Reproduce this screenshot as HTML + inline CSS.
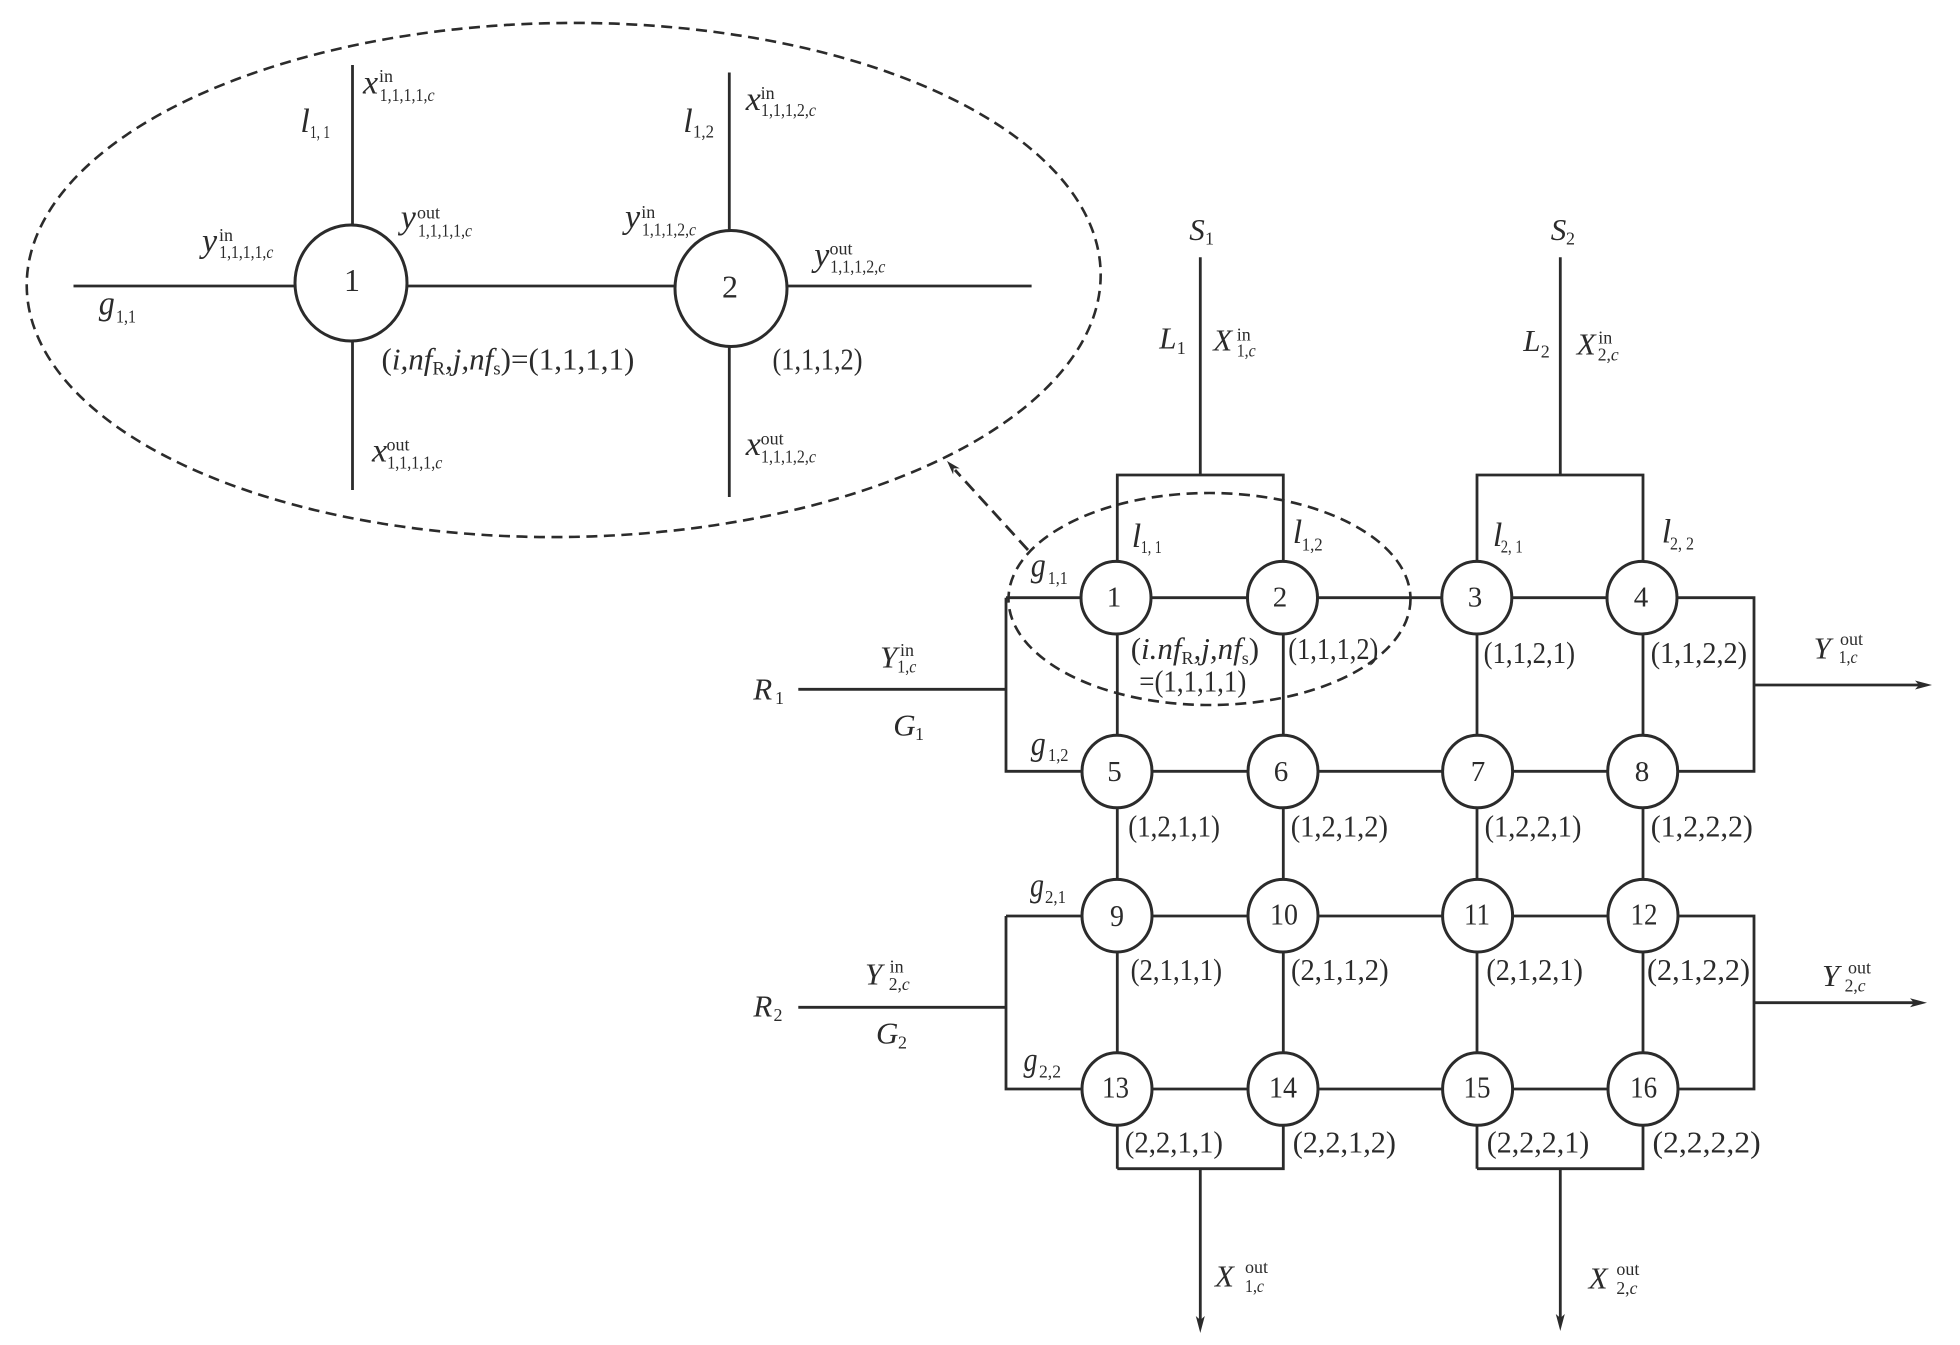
<!DOCTYPE html>
<html><head><meta charset="utf-8"><style>
html,body{margin:0;padding:0;background:#fff;width:1960px;height:1345px;overflow:hidden}
svg{display:block}
text{font-family:"Liberation Serif",serif;fill:#2b2b2b}
.i{font-style:italic;font-size:31px}
.v{font-style:italic;font-size:34px}
.s{font-size:17.5px}
.u{font-size:18px}
.si{font-size:18px}
.t{font-size:31px}
.n{font-size:29px;text-anchor:middle}
.m{font-size:31px;text-anchor:middle}
.b{font-size:32px;text-anchor:middle}
.it{font-style:italic}
.l line,.l path{stroke:#2b2b2b;stroke-width:2.8;fill:none}
.c ellipse{fill:#fff;stroke:#2b2b2b;stroke-width:3}
.d{fill:none;stroke:#2b2b2b;stroke-width:2.6;stroke-dasharray:11 6.5}
</style></head><body>
<svg width="1960" height="1345" viewBox="0 0 1960 1345" xmlns="http://www.w3.org/2000/svg">
<g class="l">
<line x1="352.5" y1="65" x2="352.5" y2="490"/>
<line x1="729.3" y1="72.5" x2="729.3" y2="497"/>
<line x1="73.5" y1="286" x2="1031.6" y2="286"/>
<path d="M1117.3 1168.7V475H1283.3V1168.7H1117.3"/>
<path d="M1477 1168.7V475H1643V1168.7H1477"/>
<line x1="1200.3" y1="257.3" x2="1200.3" y2="475"/>
<line x1="1560.3" y1="257.3" x2="1560.3" y2="475"/>
<line x1="1200.3" y1="1168.7" x2="1200.3" y2="1322"/>
<line x1="1560.3" y1="1168.7" x2="1560.3" y2="1320"/>
<path d="M1006 597.7H1754V771.3H1006V597.7"/>
<path d="M1006 916H1754V1089H1006V916"/>
<line x1="798.3" y1="689.3" x2="1006" y2="689.3"/>
<line x1="798.3" y1="1007.3" x2="1006" y2="1007.3"/>
<line x1="1754" y1="685" x2="1922" y2="685"/>
<line x1="1754" y1="1002.7" x2="1917" y2="1002.7"/>
</g>
<polygon points="1932,685 1915,680.5 1919,685 1915,689.5" fill="#2b2b2b"/>
<polygon points="1927,1002.7 1910,998.2 1914,1002.7 1910,1007.2" fill="#2b2b2b"/>
<polygon points="1200.3,1333 1195.8,1316 1200.3,1320 1204.8,1316" fill="#2b2b2b"/>
<polygon points="1560.3,1331 1555.8,1314 1560.3,1318 1564.8,1314" fill="#2b2b2b"/>
<g class="c">
<ellipse cx="351" cy="283" rx="56" ry="58"/>
<ellipse cx="731" cy="288.5" rx="56" ry="58"/>
<ellipse cx="1116" cy="597.7" rx="35" ry="36.3"/>
<ellipse cx="1282.5" cy="597.7" rx="35" ry="36.3"/>
<ellipse cx="1476.8" cy="597.7" rx="35" ry="36.3"/>
<ellipse cx="1642" cy="597.7" rx="35" ry="36.3"/>
<ellipse cx="1117" cy="771.5" rx="35" ry="36.3"/>
<ellipse cx="1283" cy="771.5" rx="35" ry="36.3"/>
<ellipse cx="1477.6" cy="771.5" rx="35" ry="36.3"/>
<ellipse cx="1642.7" cy="771.5" rx="35" ry="36.3"/>
<ellipse cx="1117" cy="915.7" rx="35" ry="36.3"/>
<ellipse cx="1283" cy="915.7" rx="35" ry="36.3"/>
<ellipse cx="1477.6" cy="915.7" rx="35" ry="36.3"/>
<ellipse cx="1643" cy="915.7" rx="35" ry="36.3"/>
<ellipse cx="1117" cy="1089" rx="35" ry="36.3"/>
<ellipse cx="1283" cy="1089" rx="35" ry="36.3"/>
<ellipse cx="1477.6" cy="1089" rx="35" ry="36.3"/>
<ellipse cx="1643" cy="1089" rx="35" ry="36.3"/>
</g>
<ellipse class="d" cx="563.7" cy="280" rx="537" ry="257" transform="rotate(-0.7 563.7 280)"/>
<ellipse class="d" cx="1209.5" cy="599" rx="201" ry="106"/>
<line x1="1028" y1="550" x2="955" y2="470" stroke="#2b2b2b" stroke-width="2.8" stroke-dasharray="13 7"/>
<polygon points="947,461 959.7,468.4 953.7,468.4 953.1,474.4" fill="#2b2b2b"/>

<!-- circle numbers -->
<text class="b" x="352" y="291">1</text>
<text class="b" x="730" y="297.5">2</text>
<text class="n" x="1114" y="606.7">1</text>
<text class="n" x="1280" y="606.7">2</text>
<text class="n" x="1475" y="606.7">3</text>
<text class="n" x="1641" y="606.7">4</text>
<text class="n" x="1114.5" y="781">5</text>
<text class="n" x="1281" y="781">6</text>
<text class="n" x="1478" y="781">7</text>
<text class="n" x="1642" y="781">8</text>
<text class="m" x="1117" y="926" textLength="14" lengthAdjust="spacingAndGlyphs">9</text>
<text class="m" x="1284" y="924.5" textLength="28" lengthAdjust="spacingAndGlyphs">10</text>
<text class="m" x="1477" y="924.5" textLength="26" lengthAdjust="spacingAndGlyphs">11</text>
<text class="m" x="1644" y="924.5" textLength="27" lengthAdjust="spacingAndGlyphs">12</text>
<text class="m" x="1115.5" y="1097.5" textLength="27" lengthAdjust="spacingAndGlyphs">13</text>
<text class="m" x="1283" y="1097.5" textLength="28" lengthAdjust="spacingAndGlyphs">14</text>
<text class="m" x="1477" y="1097.5" textLength="27" lengthAdjust="spacingAndGlyphs">15</text>
<text class="m" x="1643.6" y="1097.5" textLength="27" lengthAdjust="spacingAndGlyphs">16</text>

<!-- tuple labels -->
<g class="t">
<text class="t" x="772.5" y="369.6" textLength="90" lengthAdjust="spacingAndGlyphs">(1,1,1,2)</text>
<text class="t" x="1288.3" y="659" textLength="90" lengthAdjust="spacingAndGlyphs">(1,1,1,2)</text>
<text class="t" x="1139.3" y="691.7" textLength="107" lengthAdjust="spacingAndGlyphs">=(1,1,1,1)</text>
<text class="t" x="1483.6" y="663" textLength="91.4" lengthAdjust="spacingAndGlyphs">(1,1,2,1)</text>
<text class="t" x="1650.7" y="663" textLength="96.3" lengthAdjust="spacingAndGlyphs">(1,1,2,2)</text>
<text class="t" x="1128.3" y="836.7" textLength="91.7" lengthAdjust="spacingAndGlyphs">(1,2,1,1)</text>
<text class="t" x="1290.7" y="836.7" textLength="97.3" lengthAdjust="spacingAndGlyphs">(1,2,1,2)</text>
<text class="t" x="1484.6" y="836.7" textLength="96.8" lengthAdjust="spacingAndGlyphs">(1,2,2,1)</text>
<text class="t" x="1650.7" y="836.7" textLength="102.2" lengthAdjust="spacingAndGlyphs">(1,2,2,2)</text>
<text class="t" x="1130.6" y="980" textLength="91.4" lengthAdjust="spacingAndGlyphs">(2,1,1,1)</text>
<text class="t" x="1291" y="980" textLength="97.6" lengthAdjust="spacingAndGlyphs">(2,1,1,2)</text>
<text class="t" x="1486.4" y="980" textLength="96.5" lengthAdjust="spacingAndGlyphs">(2,1,2,1)</text>
<text class="t" x="1647" y="980" textLength="103" lengthAdjust="spacingAndGlyphs">(2,1,2,2)</text>
<text class="t" x="1124.8" y="1152.7" textLength="98.2" lengthAdjust="spacingAndGlyphs">(2,2,1,1)</text>
<text class="t" x="1292.7" y="1152.7" textLength="103.3" lengthAdjust="spacingAndGlyphs">(2,2,1,2)</text>
<text class="t" x="1486.8" y="1152.7" textLength="102.5" lengthAdjust="spacingAndGlyphs">(2,2,2,1)</text>
<text class="t" x="1652.5" y="1152.7" textLength="108.2" lengthAdjust="spacingAndGlyphs">(2,2,2,2)</text>
</g>
<text x="381.5" y="369.6" style="font-size:31px">(<tspan class="it">i,nf</tspan><tspan dy="5" style="font-size:19px">R</tspan><tspan dy="-5" class="it">,j,nf</tspan><tspan dy="5" style="font-size:19px">s</tspan><tspan dy="-5">)=(1,1,1,1)</tspan></text>
<text x="1130.7" y="659" style="font-size:31px">(<tspan class="it">i.nf</tspan><tspan dy="5" style="font-size:18px">R</tspan><tspan dy="-5" class="it">,j,nf</tspan><tspan dy="5" style="font-size:18px">s</tspan><tspan dy="-5">)</tspan></text>

<!-- big figure variables -->
<text class="v" x="363" y="93.6">x</text><text class="u" x="379" y="82">in</text><text class="s" x="379.6" y="101" textLength="55" lengthAdjust="spacingAndGlyphs">1,1,1,1,<tspan class="it">c</tspan></text>
<text class="v" x="300.4" y="132">l</text><text class="s" x="310" y="138" textLength="20" lengthAdjust="spacingAndGlyphs">1, 1</text>
<text class="v" x="400.7" y="228.6">y</text><text class="u" x="417" y="218.6">out</text><text class="s" x="418" y="236.4" textLength="54" lengthAdjust="spacingAndGlyphs">1,1,1,1,<tspan class="it">c</tspan></text>
<text class="v" x="202" y="251.8">y</text><text class="u" x="219" y="241">in</text><text class="s" x="219.3" y="257.9" textLength="54" lengthAdjust="spacingAndGlyphs">1,1,1,1,<tspan class="it">c</tspan></text>
<text class="v" x="98.7" y="314.3" textLength="16" lengthAdjust="spacingAndGlyphs">g</text><text class="s" x="116" y="322.5" textLength="20" lengthAdjust="spacingAndGlyphs">1,1</text>
<text class="v" x="372" y="461.4">x</text><text class="u" x="386.5" y="450.7">out</text><text class="s" x="387.3" y="468.6" textLength="55" lengthAdjust="spacingAndGlyphs">1,1,1,1,<tspan class="it">c</tspan></text>
<text class="v" x="745.7" y="110">x</text><text class="u" x="760.6" y="99">in</text><text class="s" x="761" y="116" textLength="55" lengthAdjust="spacingAndGlyphs">1,1,1,2,<tspan class="it">c</tspan></text>
<text class="v" x="683.3" y="132">l</text><text class="s" x="693" y="137.5" textLength="21" lengthAdjust="spacingAndGlyphs">1,2</text>
<text class="v" x="625" y="228">y</text><text class="u" x="641.2" y="217.9">in</text><text class="s" x="642" y="235.7" textLength="54" lengthAdjust="spacingAndGlyphs">1,1,1,2,<tspan class="it">c</tspan></text>
<text class="v" x="814.2" y="266">y</text><text class="u" x="829.5" y="254.3">out</text><text class="s" x="830.3" y="272.5" textLength="55" lengthAdjust="spacingAndGlyphs">1,1,1,2,<tspan class="it">c</tspan></text>
<text class="v" x="745.7" y="455">x</text><text class="u" x="760.6" y="444.6">out</text><text class="s" x="761" y="462.5" textLength="55" lengthAdjust="spacingAndGlyphs">1,1,1,2,<tspan class="it">c</tspan></text>

<!-- grid variables -->
<text class="v" x="1131.7" y="547">l</text><text class="si" x="1140.7" y="553" textLength="21" lengthAdjust="spacingAndGlyphs">1, 1</text>
<text class="v" x="1292.7" y="543">l</text><text class="si" x="1301.7" y="550.7" textLength="21" lengthAdjust="spacingAndGlyphs">1,2</text>
<text class="v" x="1492.9" y="546">l</text><text class="si" x="1500.7" y="552.3" textLength="22" lengthAdjust="spacingAndGlyphs">2, 1</text>
<text class="v" x="1661.8" y="542.7">l</text><text class="si" x="1670" y="549.3" textLength="24" lengthAdjust="spacingAndGlyphs">2, 2</text>
<text class="v" x="1030.7" y="576.7" textLength="15" lengthAdjust="spacingAndGlyphs">g</text><text class="si" x="1047.7" y="584" textLength="20" lengthAdjust="spacingAndGlyphs">1,1</text>
<text class="v" x="1030.7" y="755" textLength="15" lengthAdjust="spacingAndGlyphs">g</text><text class="si" x="1048" y="761" textLength="20.5" lengthAdjust="spacingAndGlyphs">1,2</text>
<text class="v" x="1030" y="896.7" textLength="14" lengthAdjust="spacingAndGlyphs">g</text><text class="si" x="1045" y="903" textLength="21" lengthAdjust="spacingAndGlyphs">2,1</text>
<text class="v" x="1023.5" y="1071" textLength="14" lengthAdjust="spacingAndGlyphs">g</text><text class="si" x="1039" y="1077.7" textLength="22" lengthAdjust="spacingAndGlyphs">2,2</text>

<text class="i" x="1189.3" y="240">S</text><text class="u" x="1205" y="244.3">1</text>
<text class="i" x="1550.7" y="240">S</text><text class="u" x="1566" y="244.3">2</text>
<text class="i" x="1159.3" y="348.3">L</text><text class="u" x="1176.7" y="354">1</text>
<text class="i" x="1523.3" y="351">L</text><text class="u" x="1540.7" y="357.3">2</text>
<text class="i" x="1213.3" y="350.7">X</text><text class="u" x="1236.7" y="340.7">in</text><text class="si" x="1236.7" y="356.7" textLength="19" lengthAdjust="spacingAndGlyphs">1,<tspan class="it">c</tspan></text>
<text class="i" x="1576.7" y="354.3">X</text><text class="u" x="1598.3" y="343.3">in</text><text class="si" x="1597.7" y="360.7" textLength="21" lengthAdjust="spacingAndGlyphs">2,<tspan class="it">c</tspan></text>

<text class="i" x="753.3" y="699.3">R</text><text class="u" x="775" y="704">1</text>
<text class="i" x="753.4" y="1016.7">R</text><text class="u" x="773.5" y="1021">2</text>
<text class="i" x="893.3" y="735.3">G</text><text class="u" x="915" y="740">1</text>
<text class="i" x="876" y="1043.3">G</text><text class="u" x="898" y="1048.3">2</text>
<text class="i" x="880" y="667.7">Y</text><text class="u" x="900" y="656">in</text><text class="si" x="897.3" y="672.7" textLength="19" lengthAdjust="spacingAndGlyphs">1,<tspan class="it">c</tspan></text>
<text class="i" x="865" y="984.3">Y</text><text class="u" x="889.6" y="972.3">in</text><text class="si" x="888.7" y="990" textLength="21" lengthAdjust="spacingAndGlyphs">2,<tspan class="it">c</tspan></text>
<text class="i" x="1813.6" y="658.3">Y</text><text class="u" x="1840" y="645">out</text><text class="si" x="1838.6" y="663" textLength="19" lengthAdjust="spacingAndGlyphs">1,<tspan class="it">c</tspan></text>
<text class="i" x="1822" y="986">Y</text><text class="u" x="1848" y="973.3">out</text><text class="si" x="1844.6" y="991.7" textLength="21" lengthAdjust="spacingAndGlyphs">2,<tspan class="it">c</tspan></text>
<text class="i" x="1215" y="1286.7">X</text><text class="u" x="1245" y="1273">out</text><text class="si" x="1245" y="1292" textLength="19" lengthAdjust="spacingAndGlyphs">1,<tspan class="it">c</tspan></text>
<text class="i" x="1588.6" y="1288.3">X</text><text class="u" x="1616.4" y="1275">out</text><text class="si" x="1616.4" y="1294" textLength="21" lengthAdjust="spacingAndGlyphs">2,<tspan class="it">c</tspan></text>
</svg>
</body></html>
